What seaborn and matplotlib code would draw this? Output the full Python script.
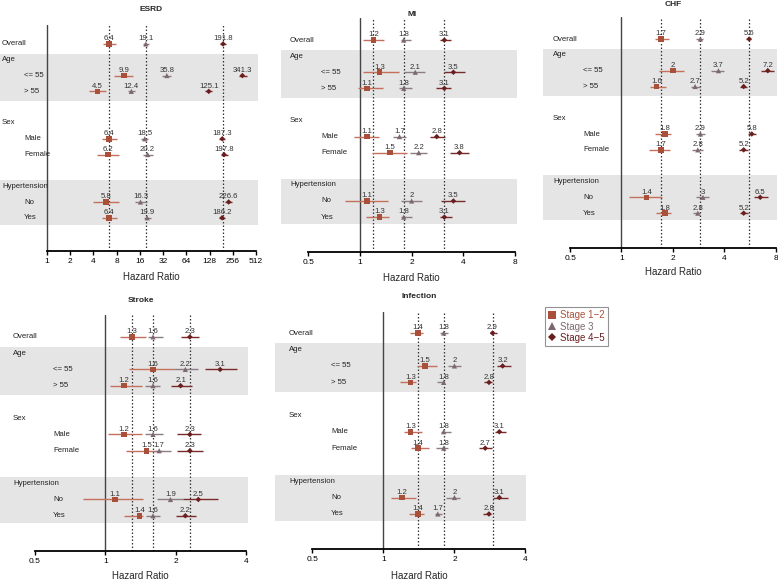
import numpy as np
import pandas as pd
import matplotlib
matplotlib.use("Agg")
import matplotlib.pyplot as plt
import seaborn as sns

W, H = 778, 580

stages = ["Stage 1\u22122", "Stage 3", "Stage 4\u22125"]
subgroups = ["Overall", "<= 55", "> 55", "Male", "Female", "No", "Yes"]
headers = ["Age", "Sex", "Hypertension"]

# hazard ratios, one inner list per stage, order as in subgroups
esrd_hr = [[6.4, 9.9, 4.5, 6.4, 6.2, 5.8, 6.4],
           [19.1, 35.8, 12.4, 18.5, 20.2, 16.3, 19.9],
           [191.8, 341.3, 125.1, 187.3, 197.8, 226.6, 186.2]]
esrd_lo = [[5.3, 7.5, 3.5, 5.1, 4.5, 4.0, 5.2],
           [17.4, 31.0, 11.3, 16.6, 17.5, 13.7, 17.9],
           [175, 305, 113, 170, 178, 201, 168]]
esrd_hi = [[7.8, 13.2, 5.8, 8.1, 8.6, 8.6, 8.1],
           [21.0, 40.1, 13.7, 20.1, 23.4, 19.6, 22.0],
           [211, 388, 138, 205, 220, 253, 203]]

mi_hr = [[1.2, 1.3, 1.1, 1.1, 1.5, 1.1, 1.3],
         [1.8, 2.1, 1.8, 1.7, 2.2, 2, 1.8],
         [3.1, 3.5, 3.1, 2.8, 3.8, 3.5, 3.1]]
mi_lo = [[1.04, 1.05, 0.97, 0.93, 1.17, 0.82, 1.08],
         [1.73, 1.81, 1.69, 1.56, 1.95, 1.73, 1.74],
         [2.91, 3.07, 2.79, 2.57, 3.34, 2.97, 2.91]]
mi_hi = [[1.38, 1.68, 1.37, 1.30, 1.87, 1.46, 1.47],
         [1.99, 2.40, 2.00, 1.85, 2.46, 2.30, 2.00],
         [3.41, 4.11, 3.39, 3.13, 4.33, 4.10, 3.44]]

chf_hr = [[1.7, 2, 1.6, 1.8, 1.7, 1.4, 1.8],
          [2.9, 3.7, 2.7, 2.9, 2.8, 3, 2.8],
          [5.6, 7.2, 5.2, 5.8, 5.2, 6.5, 5.2]]
chf_lo = [[1.58, 1.67, 1.47, 1.58, 1.45, 1.10, 1.60],
          [2.73, 3.36, 2.56, 2.75, 2.60, 2.73, 2.62],
          [5.34, 6.60, 4.92, 5.48, 4.88, 6.00, 4.93]]
chf_hi = [[1.89, 2.33, 1.83, 1.96, 1.93, 1.72, 1.94],
          [2.99, 3.98, 2.87, 3.07, 2.99, 3.25, 2.90],
          [5.76, 7.85, 5.44, 6.16, 5.50, 7.18, 5.50]]

stroke_hr = [[1.3, 1.6, 1.2, 1.2, 1.5, 1.1, 1.4],
             [1.6, 2.2, 1.6, 1.6, 1.7, 1.9, 1.6],
             [2.3, 3.1, 2.1, 2.3, 2.3, 2.5, 2.2]]
stroke_lo = [[1.16, 1.26, 1.05, 1.03, 1.23, 0.80, 1.20],
             [1.53, 1.97, 1.48, 1.48, 1.61, 1.66, 1.49],
             [2.10, 2.66, 1.91, 2.02, 2.03, 2.14, 2.01]]
stroke_hi = [[1.50, 1.96, 1.44, 1.44, 1.74, 1.45, 1.45],
             [1.77, 2.50, 1.72, 1.77, 1.91, 2.15, 1.71],
             [2.51, 3.65, 2.36, 2.56, 2.63, 3.05, 2.44]]

infection_hr = [[1.4, 1.5, 1.3, 1.3, 1.4, 1.2, 1.4],
                [1.8, 2, 1.8, 1.8, 1.8, 2, 1.7],
                [2.9, 3.2, 2.8, 3.1, 2.7, 3.1, 2.8]]
infection_lo = [[1.29, 1.39, 1.18, 1.22, 1.31, 1.08, 1.28],
                [1.74, 1.87, 1.68, 1.76, 1.67, 1.84, 1.65],
                [2.83, 3.03, 2.67, 2.97, 2.54, 2.90, 2.65]]
infection_hi = [[1.47, 1.69, 1.38, 1.45, 1.56, 1.38, 1.49],
                [1.87, 2.13, 1.80, 1.93, 1.87, 2.11, 1.77],
                [3.04, 3.46, 2.89, 3.31, 2.88, 3.38, 2.87]]

esrd_ticks = [1, 2, 4, 8, 16, 32, 64, 128, 256, 512]
wide_ticks = [0.5, 1, 2, 4, 8]
narrow_ticks = [0.5, 1, 2, 4]

# row index of each subgroup / header
sub_rows = [0, 2, 3, 6, 7, 10, 11]
head_rows = [1, 5, 9]

sns.set_style("white")
plt.rcParams["font.family"] = ["Liberation Sans", "DejaVu Sans"]

marker_col = {stages[0]: "#A8503A", stages[1]: "#7D6772", stages[2]: "#6A1E1E"}
line_col = {stages[0]: "#C4705C", stages[1]: "#8C7C84", stages[2]: "#7A2A2A"}
markers = {stages[0]: "s", stages[1]: "^", stages[2]: "D"}
sizes = {stages[0]: 16, stages[1]: 14, stages[2]: 8}

# layout in pixels: (left, top, right, bottom), xlim, ylim, label offsets, title y, xlabel y
panels = [
    dict(name="ESRD", hr=esrd_hr, lo=esrd_lo, hi=esrd_hi, ticks=esrd_ticks,
         rect=(0, 25, 258, 251), xlim=(0.246, 544), ylim=(13.1, -1.2),
         lab=(2, 24), ty=9.5, ly=277),
    dict(name="MI", hr=mi_hr, lo=mi_lo, hi=mi_hi, ticks=wide_ticks,
         rect=(281, 18, 517, 252), xlim=(0.348, 8.2), ylim=(13.17, -1.37),
         lab=(9, 40), ty=14, ly=278),
    dict(name="CHF", hr=chf_hr, lo=chf_lo, hi=chf_hi, ticks=wide_ticks,
         rect=(543, 17, 777, 248), xlim=(0.347, 8.15), ylim=(13.2, -1.39),
         lab=(10, 40), ty=5, ly=272),
    dict(name="Stroke", hr=stroke_hr, lo=stroke_lo, hi=stroke_hi, ticks=narrow_ticks,
         rect=(0, 315, 248, 550.7), xlim=(0.354, 4.08), ylim=(13.15, -1.35),
         lab=(13, 53), ty=300.7, ly=576),
    dict(name="Infection", hr=infection_hr, lo=infection_lo, hi=infection_hi, ticks=narrow_ticks,
         rect=(275, 312, 526, 549), xlim=(0.347, 4.02), ylim=(13.13, -1.28),
         lab=(14, 56), ty=296.7, ly=576),
]

fig = plt.figure(figsize=(W / 100, H / 100), dpi=100)

legend_src = None
for p in panels:
    l, t, r, b = p["rect"]
    ax = fig.add_axes([l / W, 1 - b / H, (r - l) / W, (b - t) / H])
    ax.set_facecolor("white")

    rows = []
    for si, st in enumerate(stages):
        for k, sg in enumerate(subgroups):
            rows.append(dict(stage=st, sub=sg, row=sub_rows[k],
                             hr=p["hr"][si][k], lo=p["lo"][si][k], hi=p["hi"][si][k]))
    df = pd.DataFrame(rows)

    ax.axhspan(0.62, 3.6, color="#E5E5E5", lw=0, zorder=0)
    ax.axhspan(8.62, 11.45, color="#E5E5E5", lw=0, zorder=0)

    ax.axvline(1, color="#444444", lw=1.0, zorder=1)
    for si, st in enumerate(stages):
        ax.axvline(p["hr"][si][0], color="#333333", lw=0.9, ls=(0, (1.2, 1.6)), zorder=1)

    ax.hlines(df["row"], df["lo"], df["hi"], colors=df["stage"].map(line_col), lw=1.0, zorder=2)
    show = p["name"] == "Infection"
    sns.scatterplot(data=df, x="hr", y="row", hue="stage", style="stage", size="stage",
                    palette=marker_col, markers=markers, sizes=sizes, hue_order=stages,
                    linewidth=0, ax=ax, legend=show, zorder=3)
    if show:
        legend_src = ax.get_legend_handles_labels()
        ax.get_legend().remove()

    for _, rw in df.iterrows():
        ax.annotate(f"{rw['hr']:g}", (rw["hr"], rw["row"]), xytext=(0, 1.2),
                    textcoords="offset points", ha="center", va="bottom",
                    fontsize=5.6, color="#333333", zorder=4)

    ax.set_xscale("log", base=2)
    ax.set_xlim(*p["xlim"])
    ax.set_ylim(*p["ylim"])
    ax.set_yticks([])
    ax.set_xticks(p["ticks"])
    ax.set_xticklabels([f"{v:g}" for v in p["ticks"]])
    ax.xaxis.set_minor_locator(matplotlib.ticker.NullLocator())
    ax.tick_params(axis="x", direction="out", length=3.2, width=1.0, pad=2,
                   labelsize=6, colors="black", bottom=True)
    for s in ["left", "right", "top"]:
        ax.spines[s].set_visible(False)
    ax.spines["bottom"].set_bounds(p["ticks"][0], p["ticks"][-1])
    ax.spines["bottom"].set_linewidth(1.3)
    ax.spines["bottom"].set_color("black")
    ax.set_xlabel("")
    ax.set_ylabel("")

    gx, sx = p["lab"]
    wpx = r - l
    ax.text(gx / wpx, 0, "Overall", transform=ax.get_yaxis_transform(), fontsize=5.6,
            va="center", ha="left", color="#222222")
    for k, sg in enumerate(subgroups[1:], start=1):
        ax.text(sx / wpx, sub_rows[k], sg, transform=ax.get_yaxis_transform(), fontsize=5.6,
                va="center", ha="left", color="#222222")
    for hd, hr_ in zip(headers, head_rows):
        ax.text(gx / wpx, hr_, hd, transform=ax.get_yaxis_transform(), fontsize=5.6,
                va="center", ha="left", color="#222222")

    xc = np.sqrt(p["ticks"][0] * p["ticks"][-1])
    ax.annotate(p["name"], xy=(xc, 1 - p["ty"] / H), xycoords=("data", "figure fraction"),
                ha="center", va="center", fontsize=6, fontweight="bold", annotation_clip=False)
    ax.annotate("Hazard Ratio", xy=(xc, 1 - p["ly"] / H), xycoords=("data", "figure fraction"),
                ha="center", va="center", fontsize=7, annotation_clip=False)

handles, labels = legend_src
keep = [(h, lb) for h, lb in zip(handles, labels) if lb in stages]
leg = fig.legend([h for h, _ in keep], [lb for _, lb in keep],
                 loc="upper left", bbox_to_anchor=(545 / W, 1 - 307 / H),
                 fontsize=7, frameon=True, fancybox=False, edgecolor="#777777",
                 handlelength=0.8, handletextpad=0.4, borderpad=0.35, labelspacing=0.12,
                 borderaxespad=0, markerscale=1.4)
leg.get_frame().set_linewidth(0.8)
for txt, (_, lb) in zip(leg.get_texts(), keep):
    txt.set_color(marker_col[lb])

fig.savefig("out.png", dpi=100)
